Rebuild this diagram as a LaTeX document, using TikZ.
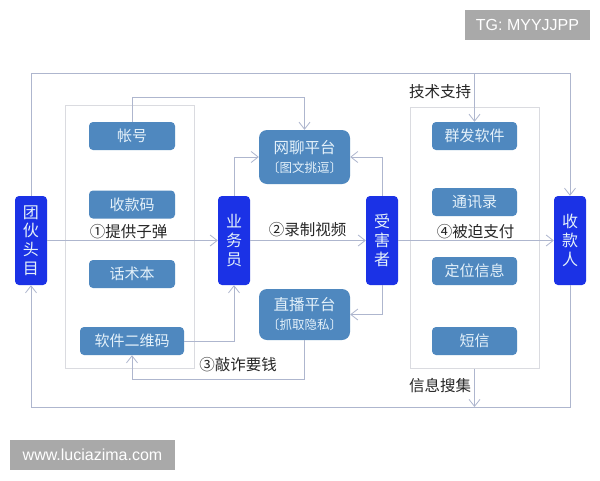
\documentclass[tikz,border=0pt]{standalone}
\usepackage{fontspec}
\setmainfont{Noto Sans CJK SC}
\newfontfamily\latinf{Liberation Sans}
\usetikzlibrary{arrows.meta,calc}
\definecolor{dblue}{HTML}{1B32E6}
\definecolor{sblue}{HTML}{4F88BF}
\definecolor{lnc}{HTML}{AEB6CE}
\definecolor{frc}{HTML}{DADBE0}
\definecolor{tagc}{HTML}{A9A9A9}
\definecolor{txtc}{HTML}{E4F1FA}
\tikzset{
 actor/.style={draw=none,fill=dblue,rounded corners=4pt,minimum width=32pt,minimum height=89pt,inner sep=0pt,text=txtc,align=center,font=\fontsize{16}{18.7}\selectfont},
 item/.style={draw=none,fill=sblue,rounded corners=4pt,minimum height=28pt,inner sep=0pt,text=txtc,font=\fontsize{15}{18}\selectfont},
 platform/.style={draw=none,fill=sblue,rounded corners=8pt,minimum width=91pt,inner sep=0pt,text=txtc,align=center,font=\fontsize{15.5}{19}\selectfont},
 frameb/.style={draw=frc,line width=1pt,fill=white,minimum width=129pt,inner sep=0pt},
 tag/.style={fill=tagc,text=white,inner sep=0pt,font=\latinf\fontsize{16}{18}\selectfont},
 lbl/.style={text=black!85,inner sep=0pt,font=\fontsize{15.5}{18}\selectfont},
 conn/.style={draw=lnc,line width=1pt},
 arr/.style={conn,-{Straight Barb[length=7pt,width=11pt,line width=0.8pt]}}
}
\begin{document}
\begin{tikzpicture}[x=1pt,y=-1pt]
\useasboundingbox (0,0) rectangle (600,480);
\fill[white] (0,0) rectangle (600,480);
% frames
\node[frameb,minimum height=263pt] (fl) at (129.5,236.5) {};
\node[frameb,minimum height=261pt] (fr) at (474.5,237.5) {};
% actors
\node[actor] (tuan) at (31,240.5) {团\\伙\\头\\目};
\node[actor] (ye) at (234,240.5) {业\\务\\员};
\node[actor] (shou) at (382,240.5) {受\\害\\者};
\node[actor] (kuan) at (570,240.5) {收\\款\\人};
% left items
\node[item,minimum width=86pt] (zh) at (132,136) {帐号};
\node[item,minimum width=86pt] (skm) at (132,204.5) {收款码};
\node[item,minimum width=86pt] (hs) at (132,274) {话术本};
\node[item,minimum width=104pt] (rj) at (132,341) {软件二维码};
% right items
\node[item,minimum width=85pt] (qf) at (474.5,136) {群发软件};
\node[item,minimum width=85pt] (tx) at (474.5,202) {通讯录};
\node[item,minimum width=85pt] (dw) at (474.5,271) {定位信息};
\node[item,minimum width=85pt] (dx) at (474.5,341) {短信};
% platforms
\node[platform,minimum height=54pt] (wl) at (304.5,157) {网聊平台\\{\fontsize{12.5}{16}\selectfont 〔图文挑逗〕}};
\node[platform,minimum height=51pt] (zb) at (304.5,314.5) {直播平台\\{\fontsize{12.5}{16}\selectfont 〔抓取隐私〕}};
% free corners
\coordinate (tl) at (31,73);
\coordinate (tr) at (570,73);
\coordinate (bl) at (31,407);
\coordinate (br) at (570,407);
\coordinate (tb) at (474.5,73);
\coordinate (bb) at (474.5,407);
\coordinate (it) at (132,97);
\coordinate (ib) at (132,379);
% connectors
\draw[arr] (tuan.north) -- (tl) -- (tr) -- (kuan.north);
\draw[arr] (tb) -- (qf.north);
\draw[arr] (kuan.south) -- (br) -- (bl) -- (tuan.south);
\draw[arr] (fr.south) -- (bb);
\draw[arr] (zh.north) -- (it) -| (wl.north);
\draw[arr] (tuan.east) -- (ye.west);
\draw[arr] (ye.east) -- (shou.west);
\draw[arr] (shou.east) -- (kuan.west);
\draw[arr] (ye.north) |- (wl.west);
\draw[arr] (shou.north) |- (wl.east);
\draw[arr] (shou.south) |- (zb.east);
\draw[arr] (rj.east) -| (ye.south);
\draw[arr] (zb.south) |- (ib) -- (rj.south);
% labels
\node[lbl] (l1) at (128.5,232) {①提供子弹};
\node[lbl] (l2) at (307.5,230) {②录制视频};
\node[lbl] (l3) at (238,365) {③敲诈要钱};
\node[lbl] (l4) at (475.5,232) {④被迫支付};
\node[lbl] (l5) at (440,92) {技术支持};
\node[lbl] (l6) at (440,386) {信息搜集};
% tags
\node[tag,minimum width=125pt,minimum height=30pt] (t1) at (527.5,25) {TG: MYYJJPP};
\node[tag,minimum width=165pt,minimum height=30pt] (t2) at (92.5,455) {www.luciazima.com};
\end{tikzpicture}
\end{document}
